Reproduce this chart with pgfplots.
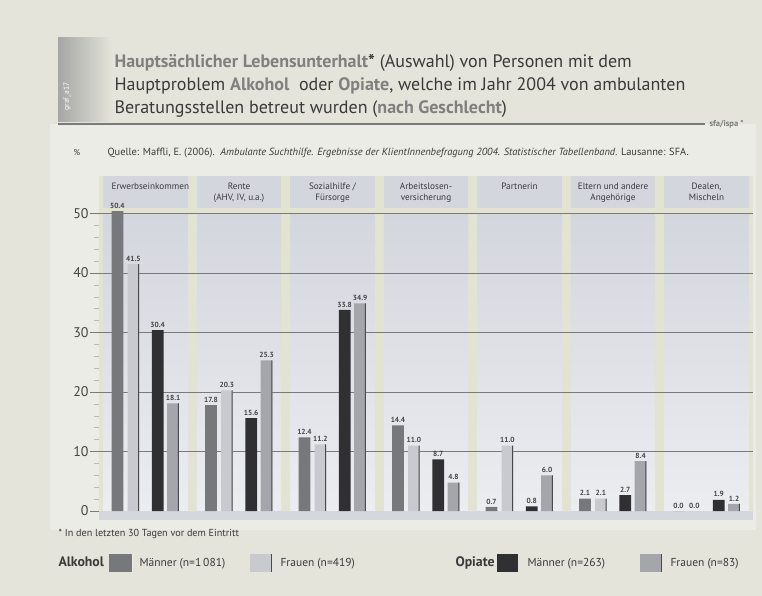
\documentclass[border=0pt]{standalone}
\usepackage{pgfplots}
\pgfplotsset{compat=1.18}
\usepackage{fontspec}
\setmainfont{PT Sans}
\definecolor{bg}{HTML}{E4E4DA}
\definecolor{bglight}{HTML}{ECECE6}
\definecolor{stripe}{HTML}{E3E3D2}
\definecolor{paneltop}{HTML}{D4D6DE}
\definecolor{panelbot}{HTML}{ECEDF1}
\definecolor{band}{HTML}{D6D7DD}
\definecolor{gridc}{HTML}{7A7A7A}
\definecolor{alkm}{HTML}{77787C}
\definecolor{alkf}{HTML}{C9CACF}
\definecolor{opim}{HTML}{303032}
\definecolor{opif}{HTML}{A5A6AB}
\definecolor{edge}{HTML}{4A4A4C}
\definecolor{tdark}{HTML}{3A3A3A}
\definecolor{thl}{HTML}{808080}
\definecolor{lab}{HTML}{444444}
\pgfplotsset{vals/.style={nodes near coords={\pgfmathprintnumber[fixed,fixed zerofill,precision=1]{\pgfplotspointmeta}},
  every node near coord/.append style={font=\bfseries\fontsize{7.4}{7.4}\selectfont, text=lab, inner sep=2.5pt}}}
\begin{document}
\begin{tikzpicture}[x=1pt,y=1pt]
\useasboundingbox (0,0) rectangle (762,596);
\fill[bg] (0,0) rectangle (762,596);
\fill[bglight] (50,66) rectangle (756,472);
% title block
\shade[left color=gray!70, right color=bg] (58,474) rectangle (112,558);
\node[rotate=90, anchor=west, font=\fontsize{7.5}{7.5}\selectfont, text=white] at (67,482) {graf\_a17};
\node[anchor=base west, font=\fontsize{18}{18}\selectfont, text=tdark] at (111,528) {\textcolor{thl}{\bfseries Hauptsächlicher Lebensunterhalt}\textbf{*} (Auswahl) von Personen mit dem};
\node[anchor=base west, font=\fontsize{18}{18}\selectfont, text=tdark] at (111,505) {Hauptproblem \textcolor{thl}{\bfseries Alkohol}\ \ oder \textcolor{thl}{\bfseries Opiate}, welche im Jahr 2004 von ambulanten};
\node[anchor=base west, font=\fontsize{18}{18}\selectfont, text=tdark] at (111,482) {Beratungsstellen betreut wurden (\textcolor{thl}{\bfseries nach Geschlecht})};
\draw[gridc, line width=2pt] (58,472) -- (705,472);
\node[anchor=west, font=\bfseries\fontsize{8.5}{8.5}\selectfont, text=gridc] at (706,472) {sfa/ispa *};
% source
\node[anchor=base west, font=\fontsize{8.5}{8.5}\selectfont, text=lab] at (70,440) {\%};
\node[anchor=base west, font=\fontsize{10.4}{10.4}\selectfont, text=tdark] at (104,440) {Quelle: Maffli, E. (2006).\ \ \textit{Ambulante Suchthilfe. Ergebnisse der KlientInnenbefragung 2004. Statistischer Tabellenband.} Lausanne: SFA.};
\begin{axis}[
  at={(98.75pt,76pt)}, anchor=south west, scale only axis,
  width=654.5pt, height=344pt,
  xmin=-0.5, xmax=6.5, ymin=-1.5, ymax=56.3,
  axis lines=left,
  x axis line style={draw=none}, y axis line style={draw=none},
  xtick=\empty,
  ytick={0,10,...,50}, minor ytick={2,4,...,48},
  tick align=outside,
  major tick length=9pt, minor tick length=5pt,
  major tick style={gridc, line width=1pt},
  minor tick style={gray!55, line width=0.5pt},
  yticklabel style={font=\fontsize{14}{14}\selectfont, text=lab, inner sep=1pt},
  /pgf/number format/assume math mode=true,
  ybar, bar width=0.125,
  clip=false,
]
\fill[stripe] (axis cs:-0.5,-1.5) rectangle (axis cs:6.5,56.3);
\shade[top color=paneltop, bottom color=panelbot] (axis cs:-0.45,0) rectangle (axis cs:0.45,50);
\shade[top color=paneltop, bottom color=panelbot] (axis cs:0.55,0) rectangle (axis cs:1.45,50);
\shade[top color=paneltop, bottom color=panelbot] (axis cs:1.55,0) rectangle (axis cs:2.45,50);
\shade[top color=paneltop, bottom color=panelbot] (axis cs:2.55,0) rectangle (axis cs:3.45,50);
\shade[top color=paneltop, bottom color=panelbot] (axis cs:3.55,0) rectangle (axis cs:4.45,50);
\shade[top color=paneltop, bottom color=panelbot] (axis cs:4.55,0) rectangle (axis cs:5.45,50);
\shade[top color=paneltop, bottom color=panelbot] (axis cs:5.55,0) rectangle (axis cs:6.45,50);
\fill[paneltop] (axis cs:-0.45,50.9) rectangle (axis cs:0.45,56.3);
\fill[paneltop] (axis cs:0.55,50.9) rectangle (axis cs:1.45,56.3);
\fill[paneltop] (axis cs:1.55,50.9) rectangle (axis cs:2.45,56.3);
\fill[paneltop] (axis cs:2.55,50.9) rectangle (axis cs:3.45,56.3);
\fill[paneltop] (axis cs:3.55,50.9) rectangle (axis cs:4.45,56.3);
\fill[paneltop] (axis cs:4.55,50.9) rectangle (axis cs:5.45,56.3);
\fill[paneltop] (axis cs:5.55,50.9) rectangle (axis cs:6.45,56.3);
\fill[band] (axis cs:-0.5,-1.5) rectangle (axis cs:6.5,0);
\draw[gridc, line width=1pt] (axis cs:-0.5,10) -- (axis cs:6.5,10);
\draw[gridc, line width=1pt] (axis cs:-0.5,20) -- (axis cs:6.5,20);
\draw[gridc, line width=1pt] (axis cs:-0.5,30) -- (axis cs:6.5,30);
\draw[gridc, line width=1pt] (axis cs:-0.5,40) -- (axis cs:6.5,40);
\draw[gridc, line width=1pt] (axis cs:-0.5,50) -- (axis cs:6.5,50);
\addplot[vals, fill=alkm, draw=none, bar shift=-0.30] coordinates {(0,50.4) (1,17.8) (2,12.4) (3,14.4) (4,0.7) (5,2.1) (6,0.0)};
\addplot[vals, fill=alkf, draw=none, bar shift=-0.13] coordinates {(0,41.5) (1,20.3) (2,11.2) (3,11.0) (4,11.0) (5,2.1) (6,0.0)};
\addplot[vals, fill=opim, draw=none, bar shift=0.13] coordinates {(0,30.4) (1,15.6) (2,33.8) (3,8.7) (4,0.8) (5,2.7) (6,1.9)};
\addplot[vals, fill=opif, draw=none, bar shift=0.295] coordinates {(0,18.1) (1,25.3) (2,34.9) (3,4.8) (4,6.0) (5,8.4) (6,1.2)};
% dark right edges of the light bars
\addplot[fill=edge, draw=none, bar width=0.011, bar shift=-0.0730] coordinates {(0,41.5) (1,20.3) (2,11.2) (3,11.0) (4,11.0) (5,2.1)};
\addplot[fill=edge, draw=none, bar width=0.011, bar shift=0.3520] coordinates {(0,18.1) (1,25.3) (2,34.9) (3,4.8) (4,6.0) (5,8.4) (6,1.2)};
\node[anchor=north west, font=\fontsize{9.2}{11.2}\selectfont, text=tdark] at (axis cs:-0.40,55.7) {Erwerbseinkommen};
\node[anchor=north, align=center, font=\fontsize{9.2}{11.2}\selectfont, text=tdark] at (axis cs:1,55.7) {Rente\\(AHV, IV, u.a.)};
\node[anchor=north, align=center, font=\fontsize{9.2}{11.2}\selectfont, text=tdark] at (axis cs:2,55.7) {Sozialhilfe /\\Fürsorge};
\node[anchor=north, align=center, font=\fontsize{9.2}{11.2}\selectfont, text=tdark] at (axis cs:3,55.7) {Arbeitslosen-\\versicherung};
\node[anchor=north, align=center, font=\fontsize{9.2}{11.2}\selectfont, text=tdark] at (axis cs:4,55.7) {Partnerin};
\node[anchor=north, align=center, font=\fontsize{9.2}{11.2}\selectfont, text=tdark] at (axis cs:5,55.7) {Eltern und andere\\Angehörige};
\node[anchor=north, align=center, font=\fontsize{9.2}{11.2}\selectfont, text=tdark] at (axis cs:6,55.7) {Dealen,\\Mischeln};
\end{axis}
% footnote
\node[anchor=base west, font=\fontsize{10.2}{10.2}\selectfont, text=tdark] at (55,59) {* In den letzten 30 Tagen vor dem Eintritt};
% legend
\node[anchor=base west, font=\bfseries\fontsize{13.8}{13.8}\selectfont, text=tdark] at (55,29) {Alkohol};
\fill[alkm] (109,24) rectangle (132,42);
\draw[white!85!gray, line width=1pt] (132,24) -- (132,42);
\node[anchor=base west, font=\fontsize{11.5}{11.5}\selectfont, text=tdark] at (136,29) {Männer (n=1\,081)};
\fill[alkf] (250,24) rectangle (271,42);
\draw[edge, line width=1pt] (271,24) -- (271,42);
\node[anchor=base west, font=\fontsize{11.5}{11.5}\selectfont, text=tdark] at (277,29) {Frauen (n=419)};
\node[anchor=base west, font=\bfseries\fontsize{13.8}{13.8}\selectfont, text=tdark] at (452,29) {Opiate};
\fill[opim] (497,24) rectangle (518,42);
\node[anchor=base west, font=\fontsize{11.5}{11.5}\selectfont, text=tdark] at (524,29) {Männer (n=263)};
\fill[opif] (640,24) rectangle (661,42);
\draw[edge, line width=1pt] (661,24) -- (661,42);
\node[anchor=base west, font=\fontsize{11.5}{11.5}\selectfont, text=tdark] at (667,29) {Frauen (n=83)};
\end{tikzpicture}
\end{document}
